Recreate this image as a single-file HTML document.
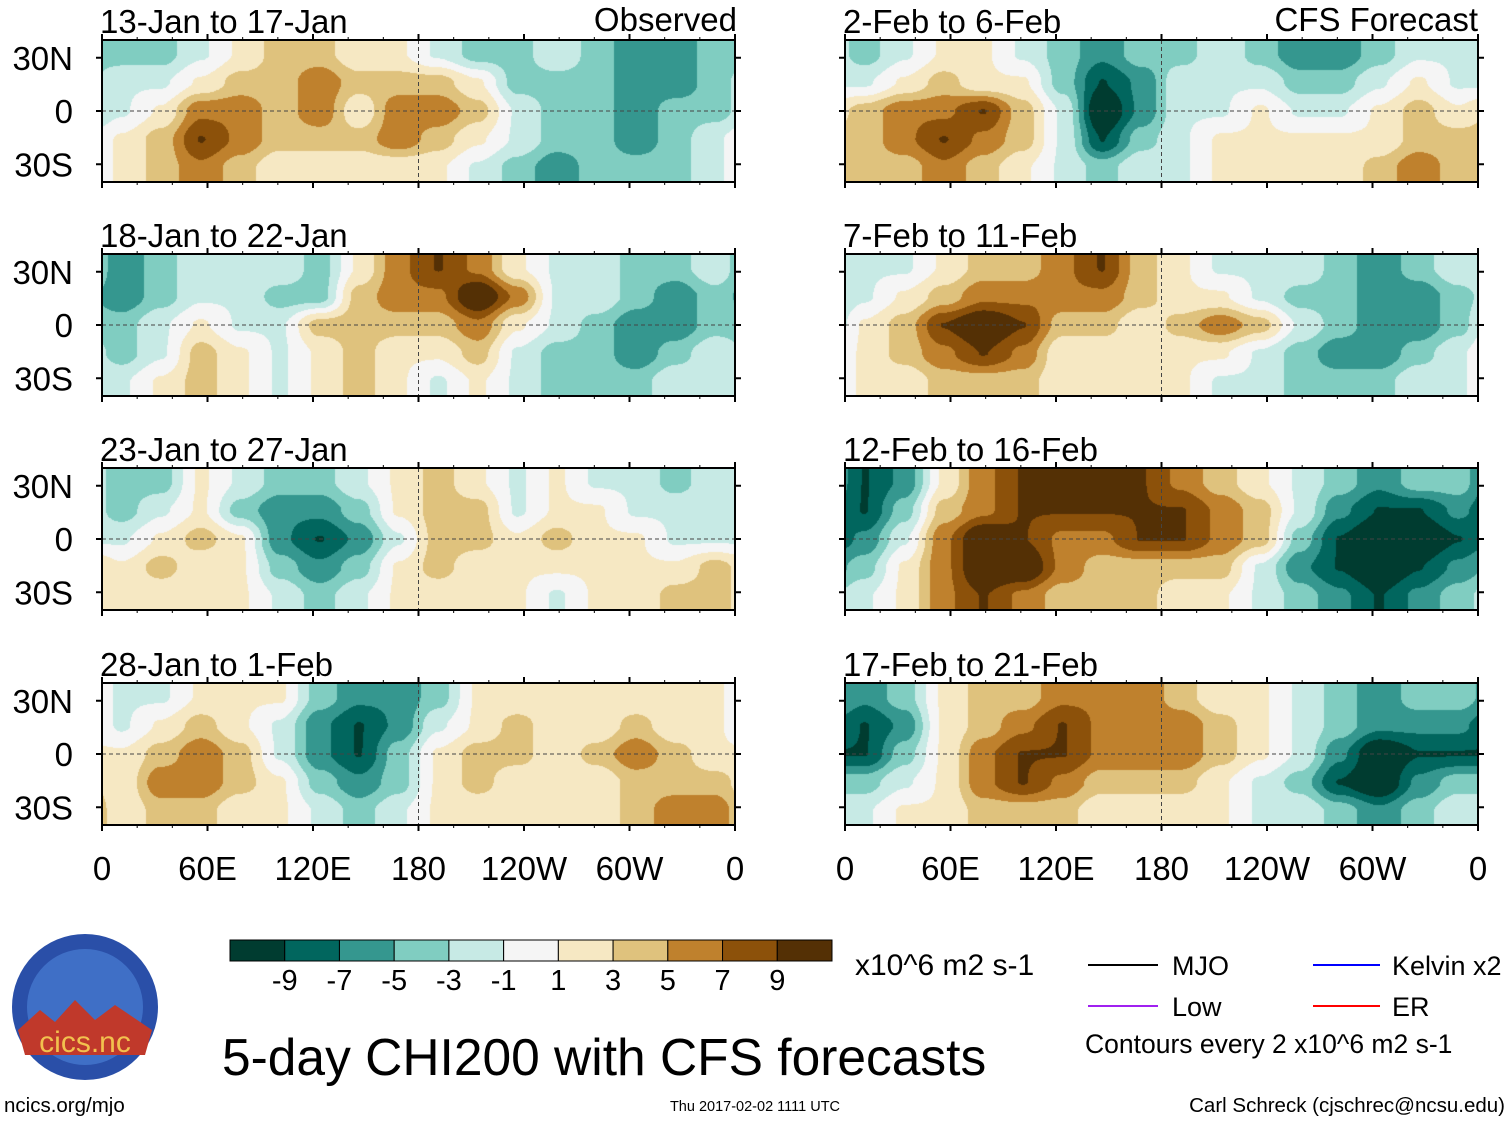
<!DOCTYPE html>
<html><head><meta charset="utf-8"><style>
body{margin:0;background:#fff;width:1510px;height:1121px;overflow:hidden;font-family:"Liberation Sans",sans-serif}
#root{position:relative;width:1510px;height:1121px}
canvas{position:absolute}
svg{position:absolute;left:0;top:0}
</style></head><body>
<div id="root">
<svg id="ov" width="1510" height="1121"></svg>
</div>
<script>
const titles=["13-Jan to 17-Jan","18-Jan to 22-Jan","23-Jan to 27-Jan","28-Jan to 1-Feb","2-Feb to 6-Feb","7-Feb to 11-Feb","12-Feb to 16-Feb","17-Feb to 21-Feb"];
const p1=[[-3,-3,-1,1,3,3,1,1,-1,-3,-3,-1,-3,-5,-5,-3],[-1,-1,1,3,3,5,3,3,3,1,-3,-3,-3,-5,-5,-3],[-1,1,5,5,3,5,1,5,5,3,-1,-3,-3,-5,-3,-3],[1,3,7,5,3,3,3,5,3,1,-1,-3,-3,-5,-3,-1],[1,3,5,3,1,1,1,1,1,-1,-3,-5,-3,-3,-3,-1]];
const p2=[[-5,-3,-1,-1,-1,-3,1,5,7,5,1,-1,-1,-3,-3,-1],[-5,-3,-1,-1,-3,-3,3,5,5,9,5,-1,-1,-3,-5,-3],[-3,-1,1,-1,-1,3,3,3,3,5,1,-1,-3,-5,-5,-3],[-3,-1,3,1,-1,1,3,1,1,3,-1,-3,-3,-5,-3,-1],[-1,1,3,1,-1,1,3,1,-1,1,-1,-3,-3,-3,-1,-1]];
const p3=[[-3,-3,1,-1,-3,-3,-1,1,3,1,-1,1,-1,-1,-3,-1],[-3,-1,1,-3,-5,-5,-3,1,3,3,-1,1,1,-1,-1,-1],[-1,1,3,1,-5,-7,-5,-1,3,3,1,3,1,1,-1,-1],[1,3,1,1,-3,-5,-3,1,3,1,1,1,1,1,1,3],[1,1,1,1,-1,-3,-1,1,1,1,1,-1,1,1,3,3]];
const p4=[[-1,-1,1,1,1,-3,-5,-5,-3,1,1,1,1,1,1,1],[-1,1,3,1,-1,-5,-7,-5,-1,1,3,1,1,3,1,1],[1,3,5,3,-1,-5,-7,-3,1,3,3,1,3,5,3,1],[1,5,5,3,1,-3,-5,-3,1,3,1,1,1,3,3,3],[1,3,3,1,1,-1,-3,-1,1,1,1,1,1,3,5,5]];
const p5=[[-3,-1,1,1,-1,-3,-5,-3,-3,-1,-3,-5,-5,-3,-1,-1],[-1,1,3,1,1,-3,-7,-5,-1,-1,-1,-3,-3,-1,1,-1],[3,5,5,7,3,-1,-9,-5,-1,-1,1,-1,-1,1,3,1],[3,5,7,5,3,-1,-7,-3,-1,1,1,1,1,1,3,3],[3,3,5,3,1,-1,-3,-1,-1,1,1,1,1,3,5,3]];
const p6=[[-1,-1,1,3,3,5,7,3,1,-1,-1,-1,-3,-5,-3,-1],[-1,1,3,5,5,5,5,3,1,1,-1,-3,-3,-5,-5,-3],[1,3,7,9,7,3,3,1,3,5,3,-1,-3,-5,-5,-3],[1,3,5,7,5,1,1,1,1,1,-1,-3,-5,-5,-3,-1],[1,1,3,3,3,1,1,1,1,-1,-1,-3,-3,-3,-1,-1]];
const p7=[[-7,-5,1,5,7,7,9,7,5,3,1,-1,-3,-5,-3,-3],[-7,-3,3,5,7,7,7,7,7,5,3,-1,-5,-7,-7,-5],[-5,-1,5,9,7,5,5,7,7,5,3,-3,-7,-9,-9,-7],[-3,1,5,9,9,5,3,3,3,3,-1,-5,-7,-9,-7,-5],[-1,1,5,7,5,3,3,3,1,1,-1,-3,-5,-7,-5,-3]];
const p8=[[-5,-3,1,3,3,5,5,5,3,1,1,-1,-3,-5,-3,-3],[-7,-5,1,3,5,7,5,5,5,3,1,-1,-3,-5,-5,-5],[-7,-3,1,5,7,7,5,5,5,3,1,-1,-5,-9,-7,-7],[-3,-1,1,5,7,5,3,3,3,1,-1,-3,-7,-9,-5,-3],[-1,1,1,3,3,3,1,1,1,1,-1,-1,-3,-5,-3,-1]];
const grids=[p1,p2,p3,p4,p5,p6,p7,p8];
const cbLabels=[-9,-7,-5,-3,-1,1,3,5,7,9];
const lonLabels=["0","60E","120E","180","120W","60W","0"];
const latLabels=["30N","0","30S"];
const colors=["#003c30","#01665e","#35978f","#80cdc1","#c7eae5","#f5f5f5","#f6e8c3","#dfc27d","#bf812d","#8c510a","#543005"];
const rgb=colors.map(c=>[1,3,5].map(i=>parseInt(c.substr(i,2),16)));
const root=document.getElementById('root');const ov=document.getElementById('ov');
const NS="http://www.w3.org/2000/svg";
function el(tag,attrs,parent){const e=document.createElementNS(NS,tag);for(const k in attrs)e.setAttribute(k,attrs[k]);(parent||ov).appendChild(e);return e;}
function txt(x,y,s,size,anchor,parent){const t=el('text',{x:x,y:y,'font-size':size,'text-anchor':anchor||'start','font-family':'Liberation Sans, sans-serif',fill:'#000'},parent);t.textContent=s;return t;}
const colX=[102,845],rowY=[40,254,468,683],PW=633,PH=142;
function lonX(x0,lon){return x0+lon/360*PW;}
function latY(y0,lat){return y0+PH/2-lat/80*PH;}
const GAIN=1.3;
function colorIdx(v){return Math.max(0,Math.min(10,Math.floor((v*GAIN+11)/2)));}
grids.forEach((g,pi)=>{
  const x0=colX[pi<4?0:1],y0=rowY[pi%4];
  const cv=document.createElement('canvas');cv.width=PW;cv.height=PH;cv.style.left=x0+'px';cv.style.top=y0+'px';
  
  
  root.insertBefore(cv,ov);
  const ctx=cv.getContext('2d');const im=ctx.createImageData(PW,PH);
  const nr=g.length,nc=g[0].length;
  const sm=t=>t*t*(3-2*t);
  for(let y=0;y<PH;y++)for(let x=0;x<PW;x++){
    let fx=(x+0.5)/PW*nc-0.5, fy=(y+0.5)/PH*nr-0.5;
    fy=Math.max(0,Math.min(nr-1,fy));
    const i0=Math.floor(fy),i1=Math.min(nr-1,i0+1),ty=sm(fy-i0);
    let j0=Math.floor(fx),tx=sm(fx-j0);j0=(j0+nc)%nc;const j1=(j0+1)%nc;
    const a=g[i0][j0]*(1-tx)+g[i0][j1]*tx,b=g[i1][j0]*(1-tx)+g[i1][j1]*tx;
    const v=a*(1-ty)+b*ty;const c=rgb[colorIdx(v)];const k=(y*PW+x)*4;
    im.data[k]=c[0];im.data[k+1]=c[1];im.data[k+2]=c[2];im.data[k+3]=255;
  }
  ctx.putImageData(im,0,0);
  const gp=el('g',{});
  el('line',{x1:x0,x2:x0+PW,y1:latY(y0,0),y2:latY(y0,0),stroke:'#444','stroke-dasharray':'4,3','stroke-width':1},gp);
  el('line',{x1:lonX(x0,180),x2:lonX(x0,180),y1:y0,y2:y0+PH,stroke:'#444','stroke-dasharray':'4,3','stroke-width':1},gp);
  el('rect',{x:x0,y:y0,width:PW,height:PH,fill:'none',stroke:'#000','stroke-width':2},gp);
  for(let l=0;l<=360;l+=60){const X=lonX(x0,l);el('line',{x1:X,x2:X,y1:y0-6,y2:y0,stroke:'#000','stroke-width':2},gp);el('line',{x1:X,x2:X,y1:y0+PH,y2:y0+PH+6,stroke:'#000','stroke-width':2},gp);}
  for(let l=0;l<=360;l+=20){const X=lonX(x0,l);el('line',{x1:X,x2:X,y1:y0-3,y2:y0,stroke:'#000'},gp);el('line',{x1:X,x2:X,y1:y0+PH,y2:y0+PH+3,stroke:'#000'},gp);}
  [30,0,-30].forEach(la=>{const Y=latY(y0,la);el('line',{x1:x0-6,x2:x0,y1:Y,y2:Y,stroke:'#000','stroke-width':2},gp);el('line',{x1:x0+PW,x2:x0+PW+6,y1:Y,y2:Y,stroke:'#000','stroke-width':2},gp);});
  const t=txt(x0-2,y0-7,titles[pi],33,'start',gp);
  if(pi<4){latLabels.forEach((s,i)=>{const t2=txt(73,latY(y0,[30,0,-30][i])+12,s,33,'end',gp);});}
});
txt(737,31,"Observed",33,'end');
txt(1478,31,"CFS Forecast",33,'end');
[0,1].forEach(c=>lonLabels.forEach((s,i)=>{const t=txt(colX[c]+i*PW/6,880,s,33,'middle');}));
const cb=el('g',{});
const cbx=230,cbw=602/11;
colors.forEach((c,i)=>el('rect',{x:cbx+i*cbw,y:940,width:cbw,height:21,fill:c,stroke:'#000','stroke-width':1},cb));
cbLabels.forEach((v,i)=>txt(cbx+(i+1)*cbw,990,String(v),29,'middle',cb));
txt(855,975,"x10^6 m2 s-1",30);
const lg=el('g',{});
el('line',{x1:1088,x2:1158,y1:965,y2:965,stroke:'#000','stroke-width':2},lg);txt(1172,975,"MJO",27,'start',lg);
el('line',{x1:1088,x2:1158,y1:1006,y2:1006,stroke:'#a020f0','stroke-width':2},lg);txt(1172,1016,"Low",27,'start',lg);
el('line',{x1:1313,x2:1380,y1:965,y2:965,stroke:'#0000ff','stroke-width':2},lg);txt(1392,975,"Kelvin x2",27,'start',lg);
el('line',{x1:1313,x2:1380,y1:1006,y2:1006,stroke:'#ff0000','stroke-width':2},lg);txt(1392,1016,"ER",27,'start',lg);
txt(1085,1053,"Contours every 2 x10^6 m2 s-1",26.5,'start',lg);
txt(222,1075,"5-day CHI200 with CFS forecasts",51.5);
txt(4,1112,"ncics.org/mjo",20.5);
txt(755,1111,"Thu 2017-02-02 1111 UTC",14.5,'middle');
txt(1505,1112,"Carl Schreck (cjschrec@ncsu.edu)",20.5,'end');
const lo=el('g',{});
el('circle',{cx:85,cy:1007,r:73,fill:'#2a4fa8'},lo);
el('circle',{cx:85,cy:1007,r:58,fill:'#3f6fc6'},lo);
el('path',{d:'M18,1030 L40,1010 L55,1022 L75,1000 L95,1020 L115,1005 L152,1030 L145,1055 L25,1055 Z',fill:'#c0392b'},lo);
const lt=txt(85,1052,"cics.nc",30,'middle',lo);lt.setAttribute('fill','#f2c14e');
</script>
</body></html>
